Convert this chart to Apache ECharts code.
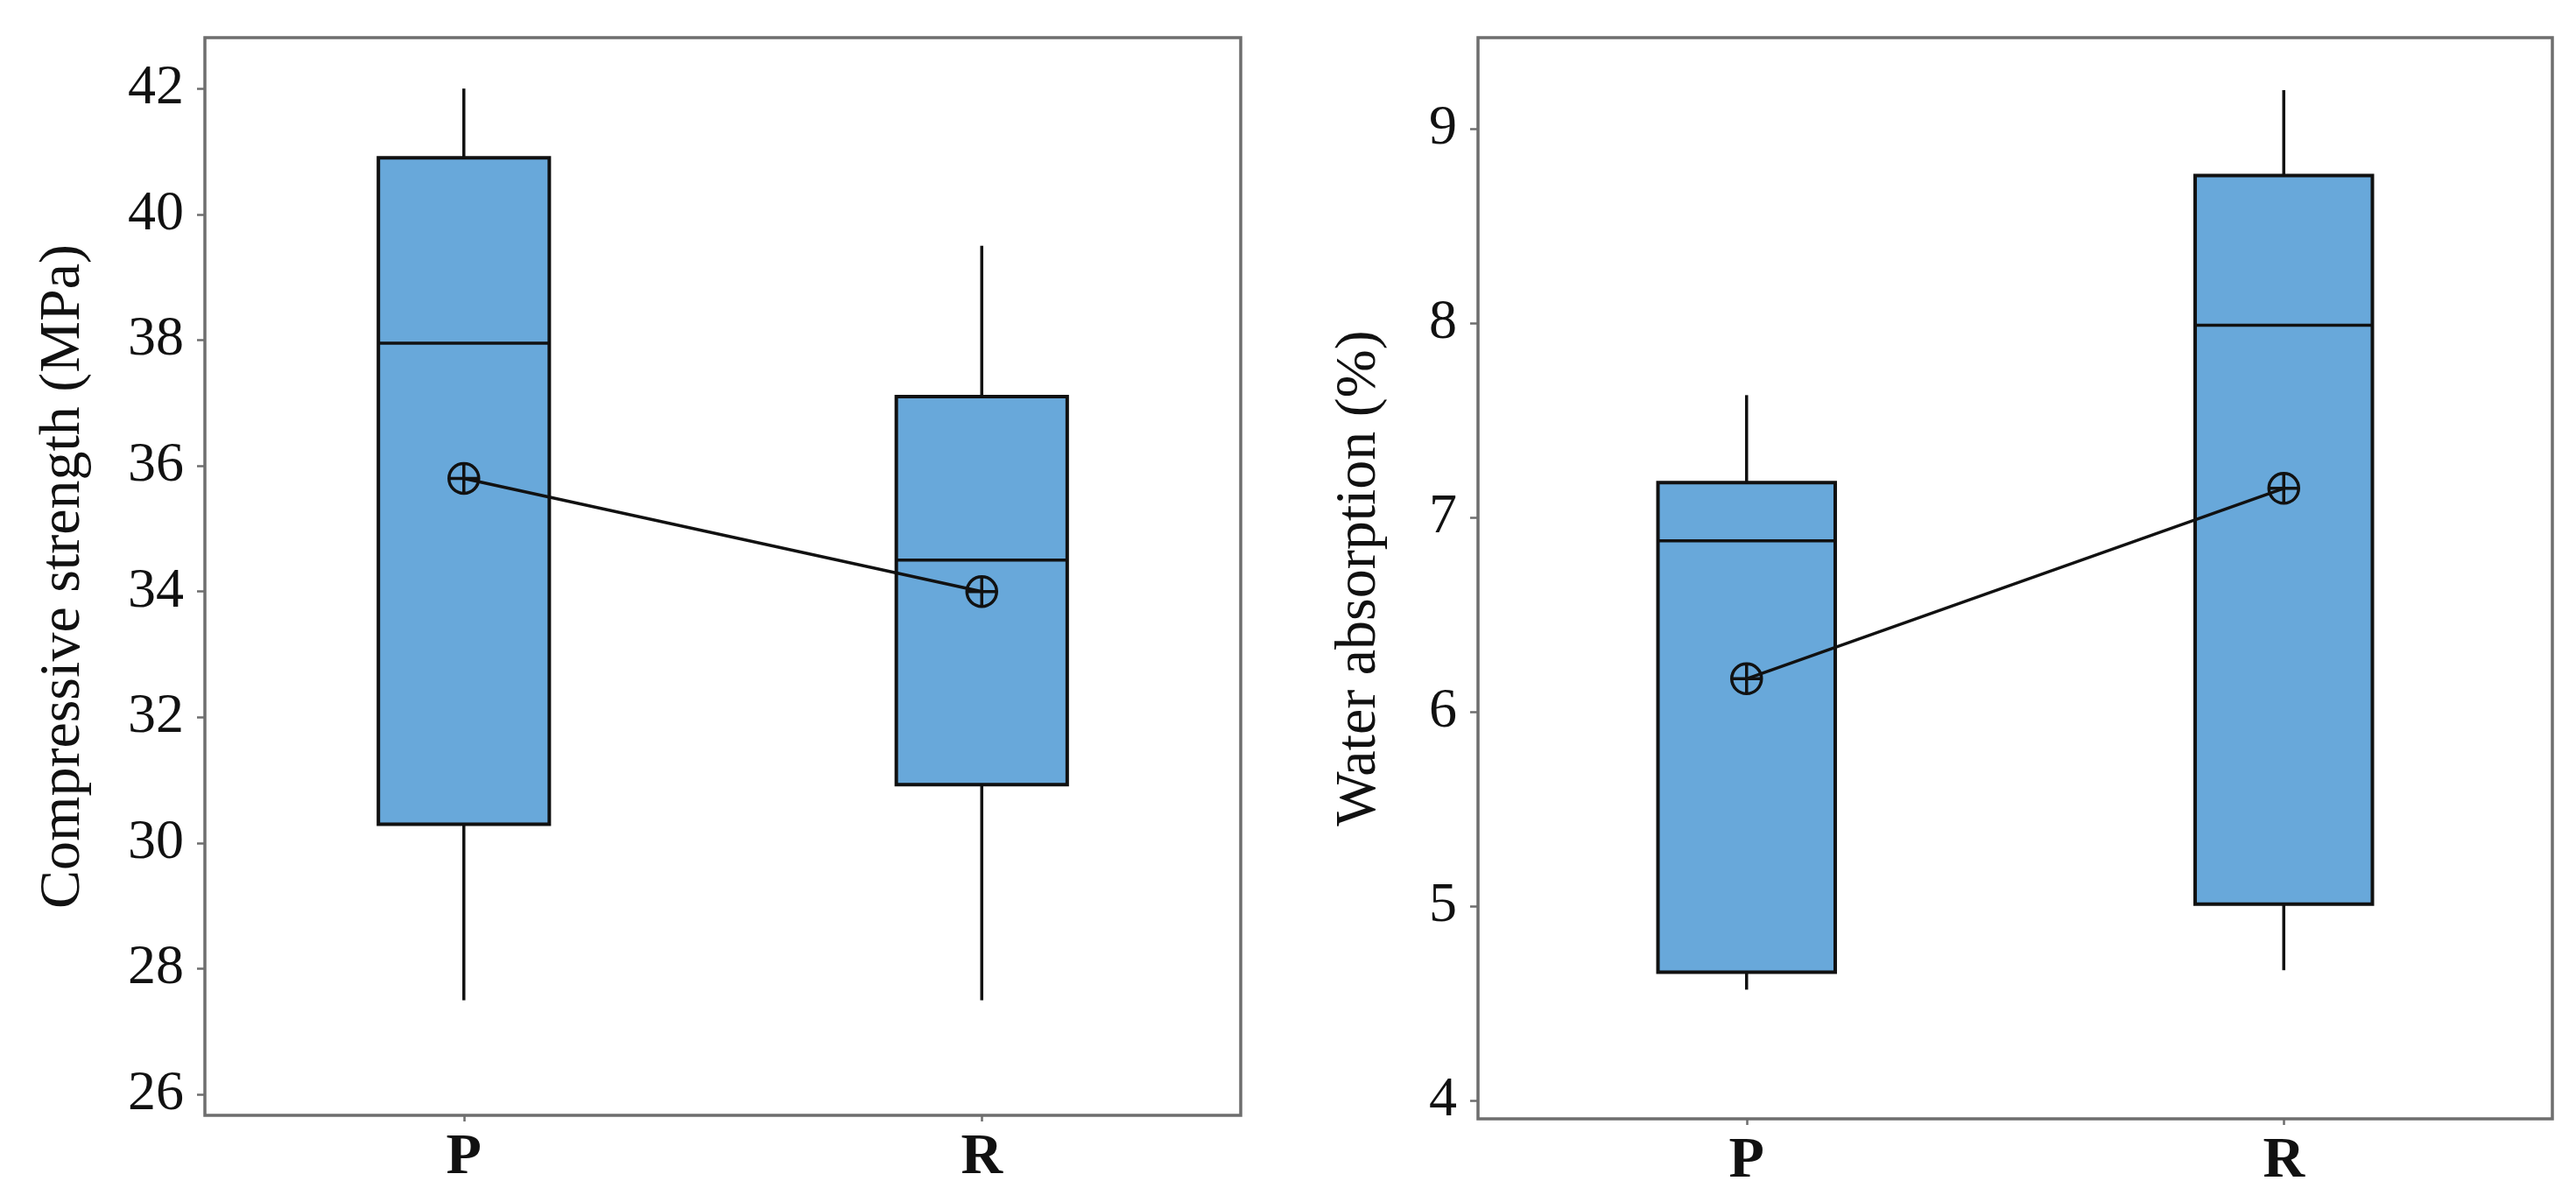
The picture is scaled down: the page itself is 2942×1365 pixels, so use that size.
<!DOCTYPE html>
<html>
<head>
<meta charset="utf-8">
<script src="https://cdn.jsdelivr.net/npm/echarts@6/dist/echarts.min.js"></script>
<style>
  html, body { margin: 0; padding: 0; background: #fff; }
  #chart { width: 2942px; height: 1365px; }
</style>
</head>
<body>
<div id="chart"></div>
<script>
// categories on both panels
const categories = ['P', 'R'];

// box stats: [whisker low, Q1, median, Q3, whisker high]
const strengthP = [27.5, 30.3, 37.95, 40.9, 42.0];
const strengthR = [27.5, 30.93, 34.5, 37.1, 39.5];
const strengthMean = [35.8, 34.0];

const absorptionP = [4.57, 4.66, 6.88, 7.18, 7.63];
const absorptionR = [4.67, 5.01, 7.99, 8.76, 9.2];
const absorptionMean = [6.17, 7.15];

// tick labels
const strengthTicks = [26, 28, 30, 32, 34, 36, 38, 40, 42];
const absorptionTicks = [4, 5, 6, 7, 8, 9];

const FONT = "'Liberation Serif', 'Times New Roman', serif";
const FRAME = '#6e6e6e';
const INK = '#111';
const BOX_FILL = '#68A8DA';

// circle with a cross, drawn as stroke only
const meanSymbol = 'path://M0,10 A10,10 0 1,1 20,10 A10,10 0 1,1 0,10 Z M10,0 L10,20 M0,10 L20,10';

function renderBox(params, api) {
    const idx = api.value(0);
    const half = api.size([1, 0])[0] * 0.33 / 2;
    const lo = api.coord([idx, api.value(1)]);
    const q1 = api.coord([idx, api.value(2)]);
    const med = api.coord([idx, api.value(3)]);
    const q3 = api.coord([idx, api.value(4)]);
    const hi = api.coord([idx, api.value(5)]);
    const cx = lo[0];
    const lineStyle = { stroke: INK, lineWidth: 3.5 };
    return {
        type: 'group',
        children: [
            { type: 'line', shape: { x1: cx, y1: hi[1], x2: cx, y2: q3[1] }, style: lineStyle },
            { type: 'line', shape: { x1: cx, y1: q1[1], x2: cx, y2: lo[1] }, style: lineStyle },
            {
                type: 'rect',
                shape: { x: cx - half, y: q3[1], width: half * 2, height: q1[1] - q3[1] },
                style: { fill: BOX_FILL, stroke: INK, lineWidth: 4 }
            },
            { type: 'line', shape: { x1: cx - half, y1: med[1], x2: cx + half, y2: med[1] }, style: lineStyle }
        ]
    };
}

function boxRows(pStats, rStats) {
    return [[0].concat(pStats), [1].concat(rStats)];
}

function xAxis(gridIndex) {
    return {
        type: 'category',
        gridIndex: gridIndex,
        data: categories,
        axisLine: { show: false },
        axisTick: { show: true, alignWithLabel: true, length: 7, lineStyle: { color: FRAME, width: 2.5 } },
        axisLabel: { fontFamily: FONT, fontSize: 66, fontWeight: 'bold', color: INK, margin: 16 },
        splitLine: { show: false }
    };
}

function yAxis(gridIndex, min, max, ticks, name, gap) {
    return {
        type: 'value',
        gridIndex: gridIndex,
        min: min,
        max: max,
        name: name,
        nameLocation: 'middle',
        nameGap: gap,
        nameTextStyle: { fontFamily: FONT, fontSize: 66, color: INK },
        axisLine: { show: false },
        axisTick: { show: true, length: 9, customValues: ticks, lineStyle: { color: FRAME, width: 2.5 } },
        axisLabel: { fontFamily: FONT, fontSize: 64, color: INK, margin: 24, customValues: ticks },
        splitLine: { show: false }
    };
}

function meanSeries(axisIndex, values) {
    return {
        type: 'line',
        xAxisIndex: axisIndex,
        yAxisIndex: axisIndex,
        data: values,
        z: 5,
        symbol: meanSymbol,
        symbolSize: 34,
        lineStyle: { color: INK, width: 3.5 },
        itemStyle: { color: 'rgba(0,0,0,0)', borderColor: INK, borderWidth: 3.5 },
        emphasis: { disabled: true }
    };
}

const chart = echarts.init(document.getElementById('chart'));

chart.setOption({
    animation: false,
    backgroundColor: '#fff',
    grid: [
        { left: 234, top: 43, width: 1183, height: 1231, show: true, borderColor: FRAME, borderWidth: 3.5, backgroundColor: '#fff' },
        { left: 1688, top: 43, width: 1227, height: 1235, show: true, borderColor: FRAME, borderWidth: 3.5, backgroundColor: '#fff' }
    ],
    xAxis: [xAxis(0), xAxis(1)],
    yAxis: [
        yAxis(0, 25.67, 42.81, strengthTicks, 'Compressive strength (MPa)', 128),
        yAxis(1, 3.905, 9.47, absorptionTicks, 'Water absorption (%)', 102)
    ],
    series: [
        {
            type: 'custom',
            xAxisIndex: 0,
            yAxisIndex: 0,
            renderItem: renderBox,
            encode: { x: 0, y: [1, 2, 3, 4, 5] },
            data: boxRows(strengthP, strengthR),
            z: 2
        },
        {
            type: 'custom',
            xAxisIndex: 1,
            yAxisIndex: 1,
            renderItem: renderBox,
            encode: { x: 0, y: [1, 2, 3, 4, 5] },
            data: boxRows(absorptionP, absorptionR),
            z: 2
        },
        meanSeries(0, strengthMean),
        meanSeries(1, absorptionMean)
    ]
});
</script>
</body>
</html>
